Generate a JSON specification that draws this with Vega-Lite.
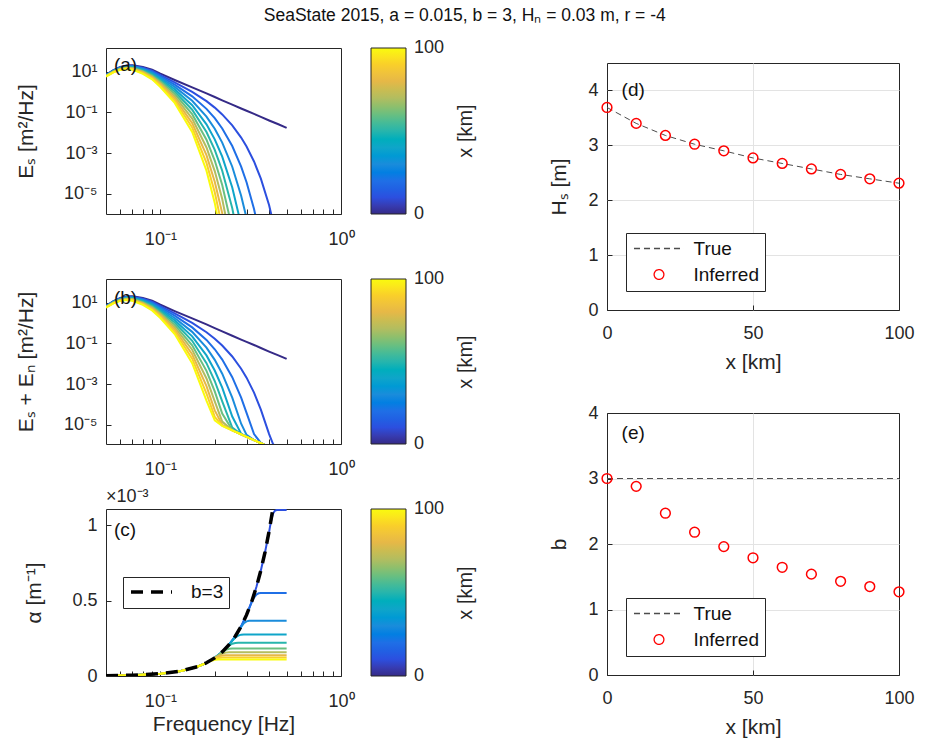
{
  "$schema": "https://vega.github.io/schema/vega-lite/v6.json",
  "background": "white",
  "padding": {"left": 15, "top": 7, "right": 5, "bottom": 5},
  "title": {"text": "SeaState 2015, a = 0.015, b = 3, Hₙ = 0.03 m, r = -4", "fontSize": 17.5, "fontWeight": "normal", "font": "Liberation Sans", "color": "#111111", "anchor": "middle", "frame": "bounds", "offset": 21},
  "config": {
    "font": "Liberation Sans",
    "view": {"stroke": "#262626", "strokeWidth": 1},
    "axis": {"labelFont": "Liberation Sans", "titleFont": "Liberation Sans", "labelFontSize": 18, "titleFontSize": 21, "titleFontWeight": "normal", "labelColor": "#262626", "titleColor": "#262626", "domain": false, "tickColor": "#262626", "tickSize": -5, "labelPadding": 14, "grid": false, "labelFlush": false},
    "legend": {"labelFont": "Liberation Sans", "titleFont": "Liberation Sans", "labelColor": "#262626", "titleColor": "#262626"},
    "text": {"font": "Liberation Sans"}
  },
  "datasets": {
    "specA": [
      {"x":0,"f":0.05,"E":7},{"x":0,"f":0.055,"E":12},{"x":0,"f":0.06,"E":17},{"x":0,"f":0.065,"E":20.5},{"x":0,"f":0.07,"E":21},{"x":0,"f":0.08,"E":17},{"x":0,"f":0.09,"E":12.5},{"x":0,"f":0.1,"E":8},{"x":0,"f":0.12,"E":3.9},{"x":0,"f":0.15,"E":1.7},{"x":0,"f":0.18,"E":0.86},{"x":0,"f":0.2,"E":0.57},{"x":0,"f":0.22,"E":0.39},{"x":0,"f":0.25,"E":0.24},{"x":0,"f":0.28,"E":0.155},{"x":0,"f":0.3,"E":0.12},{"x":0,"f":0.33,"E":0.084},{"x":0,"f":0.36,"E":0.06},{"x":0,"f":0.4,"E":0.04},{"x":0,"f":0.45,"E":0.026},{"x":0,"f":0.5,"E":0.0174},
      {"x":10,"f":0.05,"E":6.87},{"x":10,"f":0.055,"E":11.7},{"x":10,"f":0.06,"E":16.4},{"x":10,"f":0.065,"E":19.7},{"x":10,"f":0.07,"E":19.9},{"x":10,"f":0.08,"E":15.7},{"x":10,"f":0.09,"E":11.2},{"x":10,"f":0.1,"E":6.89},{"x":10,"f":0.12,"E":3.01},{"x":10,"f":0.15,"E":1.02},{"x":10,"f":0.18,"E":0.358},{"x":10,"f":0.2,"E":0.172},{"x":10,"f":0.22,"E":0.0794},{"x":10,"f":0.25,"E":0.023},{"x":10,"f":0.28,"E":0.00575},{"x":10,"f":0.3,"E":0.00209},{"x":10,"f":0.33,"E":0.000383},{"x":10,"f":0.36,"E":0.0000547},{"x":10,"f":0.4,"E":2.71e-6},{"x":10,"f":0.45,"E":3e-8},
      {"x":20,"f":0.05,"E":6.74},{"x":20,"f":0.055,"E":11.4},{"x":20,"f":0.06,"E":15.9},{"x":20,"f":0.065,"E":18.9},{"x":20,"f":0.07,"E":18.9},{"x":20,"f":0.08,"E":14.6},{"x":20,"f":0.09,"E":10.0},{"x":20,"f":0.1,"E":5.93},{"x":20,"f":0.12,"E":2.32},{"x":20,"f":0.15,"E":0.617},{"x":20,"f":0.18,"E":0.149},{"x":20,"f":0.2,"E":0.0518},{"x":20,"f":0.22,"E":0.0161},{"x":20,"f":0.25,"E":0.00221},{"x":20,"f":0.28,"E":0.000214},{"x":20,"f":0.3,"E":0.0000364},{"x":20,"f":0.33,"E":1.75e-6},{"x":20,"f":0.36,"E":5e-8},
      {"x":30,"f":0.05,"E":6.62},{"x":30,"f":0.055,"E":11.1},{"x":30,"f":0.06,"E":15.4},{"x":30,"f":0.065,"E":18.1},{"x":30,"f":0.07,"E":18.0},{"x":30,"f":0.08,"E":13.5},{"x":30,"f":0.09,"E":9.02},{"x":30,"f":0.1,"E":5.1},{"x":30,"f":0.12,"E":1.79},{"x":30,"f":0.15,"E":0.372},{"x":30,"f":0.18,"E":0.0622},{"x":30,"f":0.2,"E":0.0156},{"x":30,"f":0.22,"E":0.00326},{"x":30,"f":0.25,"E":0.000212},{"x":30,"f":0.28,"E":7.94e-6},{"x":30,"f":0.3,"E":6.3e-7},
      {"x":40,"f":0.05,"E":6.49},{"x":40,"f":0.055,"E":10.9},{"x":40,"f":0.06,"E":14.9},{"x":40,"f":0.065,"E":17.4},{"x":40,"f":0.07,"E":17.1},{"x":40,"f":0.08,"E":12.5},{"x":40,"f":0.09,"E":8.09},{"x":40,"f":0.1,"E":4.39},{"x":40,"f":0.12,"E":1.38},{"x":40,"f":0.15,"E":0.224},{"x":40,"f":0.18,"E":0.0259},{"x":40,"f":0.2,"E":0.0047},{"x":40,"f":0.22,"E":0.00066},{"x":40,"f":0.25,"E":0.0000203},{"x":40,"f":0.28,"E":2.95e-7},
      {"x":50,"f":0.05,"E":6.37},{"x":50,"f":0.055,"E":10.6},{"x":50,"f":0.06,"E":14.5},{"x":50,"f":0.065,"E":16.7},{"x":50,"f":0.07,"E":16.2},{"x":50,"f":0.08,"E":11.6},{"x":50,"f":0.09,"E":7.24},{"x":50,"f":0.1,"E":3.78},{"x":50,"f":0.12,"E":1.07},{"x":50,"f":0.15,"E":0.135},{"x":50,"f":0.18,"E":0.0108},{"x":50,"f":0.2,"E":0.00142},{"x":50,"f":0.22,"E":0.000134},{"x":50,"f":0.25,"E":1.95e-6},{"x":50,"f":0.28,"E":1.1e-8},
      {"x":60,"f":0.05,"E":6.25},{"x":60,"f":0.055,"E":10.3},{"x":60,"f":0.06,"E":14.0},{"x":60,"f":0.065,"E":16.0},{"x":60,"f":0.07,"E":15.4},{"x":60,"f":0.08,"E":10.7},{"x":60,"f":0.09,"E":6.5},{"x":60,"f":0.1,"E":3.25},{"x":60,"f":0.12,"E":0.822},{"x":60,"f":0.15,"E":0.0815},{"x":60,"f":0.18,"E":0.00451},{"x":60,"f":0.2,"E":0.000427},{"x":60,"f":0.22,"E":0.000027},{"x":60,"f":0.25,"E":1.87e-7},
      {"x":70,"f":0.05,"E":6.14},{"x":70,"f":0.055,"E":10.1},{"x":70,"f":0.06,"E":13.6},{"x":70,"f":0.065,"E":15.4},{"x":70,"f":0.07,"E":14.7},{"x":70,"f":0.08,"E":9.93},{"x":70,"f":0.09,"E":5.83},{"x":70,"f":0.1,"E":2.8},{"x":70,"f":0.12,"E":0.635},{"x":70,"f":0.15,"E":0.0491},{"x":70,"f":0.18,"E":0.00188},{"x":70,"f":0.2,"E":0.000129},{"x":70,"f":0.22,"E":5.48e-6},{"x":70,"f":0.25,"E":1.8e-8},
      {"x":80,"f":0.05,"E":6.03},{"x":80,"f":0.055,"E":9.82},{"x":80,"f":0.06,"E":13.1},{"x":80,"f":0.065,"E":14.8},{"x":80,"f":0.07,"E":13.9},{"x":80,"f":0.08,"E":9.19},{"x":80,"f":0.09,"E":5.23},{"x":80,"f":0.1,"E":2.41},{"x":80,"f":0.12,"E":0.49},{"x":80,"f":0.15,"E":0.0296},{"x":80,"f":0.18,"E":0.000783},{"x":80,"f":0.2,"E":0.0000387},{"x":80,"f":0.22,"E":1.11e-6},{"x":80,"f":0.25,"E":1.7e-9},
      {"x":90,"f":0.05,"E":5.92},{"x":90,"f":0.055,"E":9.57},{"x":90,"f":0.06,"E":12.7},{"x":90,"f":0.065,"E":14.2},{"x":90,"f":0.07,"E":13.2},{"x":90,"f":0.08,"E":8.51},{"x":90,"f":0.09,"E":4.69},{"x":90,"f":0.1,"E":2.07},{"x":90,"f":0.12,"E":0.378},{"x":90,"f":0.15,"E":0.0179},{"x":90,"f":0.18,"E":0.000327},{"x":90,"f":0.2,"E":0.0000117},{"x":90,"f":0.22,"E":2.25e-7},
      {"x":100,"f":0.05,"E":5.81},{"x":100,"f":0.055,"E":9.35},{"x":100,"f":0.06,"E":12.3},{"x":100,"f":0.065,"E":13.6},{"x":100,"f":0.07,"E":12.6},{"x":100,"f":0.08,"E":7.87},{"x":100,"f":0.09,"E":4.21},{"x":100,"f":0.1,"E":1.78},{"x":100,"f":0.12,"E":0.292},{"x":100,"f":0.15,"E":0.0108},{"x":100,"f":0.18,"E":0.000136},{"x":100,"f":0.2,"E":3.52e-6},{"x":100,"f":0.22,"E":4.5e-8}
    ],
    "specB": [
      {"x":0,"f":0.05,"E":7},{"x":0,"f":0.055,"E":12},{"x":0,"f":0.06,"E":17},{"x":0,"f":0.065,"E":20.5},{"x":0,"f":0.07,"E":21},{"x":0,"f":0.08,"E":17},{"x":0,"f":0.09,"E":12.5},{"x":0,"f":0.1,"E":8},{"x":0,"f":0.12,"E":3.9},{"x":0,"f":0.15,"E":1.7},{"x":0,"f":0.18,"E":0.86},{"x":0,"f":0.2,"E":0.57},{"x":0,"f":0.22,"E":0.39},{"x":0,"f":0.25,"E":0.24},{"x":0,"f":0.28,"E":0.155},{"x":0,"f":0.3,"E":0.12},{"x":0,"f":0.33,"E":0.084},{"x":0,"f":0.36,"E":0.06},{"x":0,"f":0.4,"E":0.04},{"x":0,"f":0.45,"E":0.026},{"x":0,"f":0.5,"E":0.0174},
      {"x":10,"f":0.05,"E":6.87},{"x":10,"f":0.055,"E":11.7},{"x":10,"f":0.06,"E":16.4},{"x":10,"f":0.065,"E":19.7},{"x":10,"f":0.07,"E":19.9},{"x":10,"f":0.08,"E":15.7},{"x":10,"f":0.09,"E":11.2},{"x":10,"f":0.1,"E":6.89},{"x":10,"f":0.12,"E":3.01},{"x":10,"f":0.15,"E":1.02},{"x":10,"f":0.18,"E":0.358},{"x":10,"f":0.2,"E":0.172},{"x":10,"f":0.22,"E":0.0794},{"x":10,"f":0.25,"E":0.023},{"x":10,"f":0.28,"E":0.00575},{"x":10,"f":0.3,"E":0.00209},{"x":10,"f":0.33,"E":0.000385},{"x":10,"f":0.36,"E":0.000056},{"x":10,"f":0.4,"E":3.53e-6},{"x":10,"f":0.42,"E":1.18e-6},{"x":10,"f":0.45,"E":5.4e-7},
      {"x":20,"f":0.05,"E":6.74},{"x":20,"f":0.055,"E":11.4},{"x":20,"f":0.06,"E":15.9},{"x":20,"f":0.065,"E":18.9},{"x":20,"f":0.07,"E":18.9},{"x":20,"f":0.08,"E":14.6},{"x":20,"f":0.09,"E":10.0},{"x":20,"f":0.1,"E":5.93},{"x":20,"f":0.12,"E":2.32},{"x":20,"f":0.15,"E":0.617},{"x":20,"f":0.18,"E":0.149},{"x":20,"f":0.2,"E":0.0518},{"x":20,"f":0.22,"E":0.0161},{"x":20,"f":0.25,"E":0.00221},{"x":20,"f":0.28,"E":0.000217},{"x":20,"f":0.3,"E":0.000039},{"x":20,"f":0.33,"E":3.52e-6},{"x":20,"f":0.36,"E":1.3e-6},{"x":20,"f":0.4,"E":8.2e-7},
      {"x":30,"f":0.05,"E":6.62},{"x":30,"f":0.055,"E":11.1},{"x":30,"f":0.06,"E":15.4},{"x":30,"f":0.065,"E":18.1},{"x":30,"f":0.07,"E":18.0},{"x":30,"f":0.08,"E":13.5},{"x":30,"f":0.09,"E":9.02},{"x":30,"f":0.1,"E":5.1},{"x":30,"f":0.12,"E":1.79},{"x":30,"f":0.15,"E":0.372},{"x":30,"f":0.18,"E":0.0622},{"x":30,"f":0.2,"E":0.0156},{"x":30,"f":0.22,"E":0.00326},{"x":30,"f":0.25,"E":0.000217},{"x":30,"f":0.28,"E":0.0000114},{"x":30,"f":0.3,"E":3.22e-6},{"x":30,"f":0.33,"E":1.77e-6},{"x":30,"f":0.36,"E":1.25e-6},{"x":30,"f":0.4,"E":8.2e-7},
      {"x":40,"f":0.05,"E":6.49},{"x":40,"f":0.055,"E":10.9},{"x":40,"f":0.06,"E":14.9},{"x":40,"f":0.065,"E":17.4},{"x":40,"f":0.07,"E":17.1},{"x":40,"f":0.08,"E":12.5},{"x":40,"f":0.09,"E":8.09},{"x":40,"f":0.1,"E":4.39},{"x":40,"f":0.12,"E":1.38},{"x":40,"f":0.15,"E":0.224},{"x":40,"f":0.18,"E":0.0259},{"x":40,"f":0.2,"E":0.0047},{"x":40,"f":0.22,"E":0.00067},{"x":40,"f":0.25,"E":0.0000257},{"x":40,"f":0.28,"E":3.72e-6},{"x":40,"f":0.3,"E":2.59e-6},{"x":40,"f":0.33,"E":1.77e-6},{"x":40,"f":0.36,"E":1.25e-6},{"x":40,"f":0.4,"E":8.2e-7},
      {"x":50,"f":0.05,"E":6.37},{"x":50,"f":0.055,"E":10.6},{"x":50,"f":0.06,"E":14.5},{"x":50,"f":0.065,"E":16.7},{"x":50,"f":0.07,"E":16.2},{"x":50,"f":0.08,"E":11.6},{"x":50,"f":0.09,"E":7.24},{"x":50,"f":0.1,"E":3.78},{"x":50,"f":0.12,"E":1.07},{"x":50,"f":0.15,"E":0.135},{"x":50,"f":0.18,"E":0.0108},{"x":50,"f":0.2,"E":0.00143},{"x":50,"f":0.22,"E":0.000143},{"x":50,"f":0.25,"E":7.33e-6},{"x":50,"f":0.28,"E":3.42e-6},{"x":50,"f":0.3,"E":2.59e-6},{"x":50,"f":0.33,"E":1.77e-6},{"x":50,"f":0.36,"E":1.25e-6},{"x":50,"f":0.4,"E":8.2e-7},
      {"x":60,"f":0.05,"E":6.25},{"x":60,"f":0.055,"E":10.3},{"x":60,"f":0.06,"E":14.0},{"x":60,"f":0.065,"E":16.0},{"x":60,"f":0.07,"E":15.4},{"x":60,"f":0.08,"E":10.7},{"x":60,"f":0.09,"E":6.5},{"x":60,"f":0.1,"E":3.25},{"x":60,"f":0.12,"E":0.822},{"x":60,"f":0.15,"E":0.0815},{"x":60,"f":0.18,"E":0.00453},{"x":60,"f":0.2,"E":0.00044},{"x":60,"f":0.22,"E":0.000036},{"x":60,"f":0.25,"E":5.57e-6},{"x":60,"f":0.28,"E":3.42e-6},{"x":60,"f":0.3,"E":2.59e-6},{"x":60,"f":0.33,"E":1.77e-6},{"x":60,"f":0.36,"E":1.25e-6},{"x":60,"f":0.4,"E":8.2e-7},
      {"x":70,"f":0.05,"E":6.14},{"x":70,"f":0.055,"E":10.1},{"x":70,"f":0.06,"E":13.6},{"x":70,"f":0.065,"E":15.4},{"x":70,"f":0.07,"E":14.7},{"x":70,"f":0.08,"E":9.93},{"x":70,"f":0.09,"E":5.83},{"x":70,"f":0.1,"E":2.8},{"x":70,"f":0.12,"E":0.635},{"x":70,"f":0.15,"E":0.0491},{"x":70,"f":0.18,"E":0.0019},{"x":70,"f":0.2,"E":0.000142},{"x":70,"f":0.22,"E":0.0000145},{"x":70,"f":0.25,"E":5.38e-6},{"x":70,"f":0.28,"E":3.42e-6},{"x":70,"f":0.3,"E":2.59e-6},{"x":70,"f":0.33,"E":1.77e-6},{"x":70,"f":0.36,"E":1.25e-6},{"x":70,"f":0.4,"E":8.2e-7},
      {"x":80,"f":0.05,"E":6.03},{"x":80,"f":0.055,"E":9.82},{"x":80,"f":0.06,"E":13.1},{"x":80,"f":0.065,"E":14.8},{"x":80,"f":0.07,"E":13.9},{"x":80,"f":0.08,"E":9.19},{"x":80,"f":0.09,"E":5.23},{"x":80,"f":0.1,"E":2.41},{"x":80,"f":0.12,"E":0.49},{"x":80,"f":0.15,"E":0.0296},{"x":80,"f":0.18,"E":0.0008},{"x":80,"f":0.2,"E":0.0000518},{"x":80,"f":0.22,"E":0.0000101},{"x":80,"f":0.25,"E":5.38e-6},{"x":80,"f":0.28,"E":3.42e-6},{"x":80,"f":0.3,"E":2.59e-6},{"x":80,"f":0.33,"E":1.77e-6},{"x":80,"f":0.36,"E":1.25e-6},{"x":80,"f":0.4,"E":8.2e-7},
      {"x":90,"f":0.05,"E":5.92},{"x":90,"f":0.055,"E":9.57},{"x":90,"f":0.06,"E":12.7},{"x":90,"f":0.065,"E":14.2},{"x":90,"f":0.07,"E":13.2},{"x":90,"f":0.08,"E":8.51},{"x":90,"f":0.09,"E":4.69},{"x":90,"f":0.1,"E":2.07},{"x":90,"f":0.12,"E":0.378},{"x":90,"f":0.15,"E":0.018},{"x":90,"f":0.18,"E":0.000347},{"x":90,"f":0.2,"E":0.0000248},{"x":90,"f":0.22,"E":9.2e-6},{"x":90,"f":0.25,"E":5.38e-6},{"x":90,"f":0.28,"E":3.42e-6},{"x":90,"f":0.3,"E":2.59e-6},{"x":90,"f":0.33,"E":1.77e-6},{"x":90,"f":0.36,"E":1.25e-6},{"x":90,"f":0.4,"E":8.2e-7},
      {"x":100,"f":0.05,"E":5.81},{"x":100,"f":0.055,"E":9.35},{"x":100,"f":0.06,"E":12.3},{"x":100,"f":0.065,"E":13.6},{"x":100,"f":0.07,"E":12.6},{"x":100,"f":0.08,"E":7.87},{"x":100,"f":0.09,"E":4.21},{"x":100,"f":0.1,"E":1.78},{"x":100,"f":0.12,"E":0.292},{"x":100,"f":0.15,"E":0.0108},{"x":100,"f":0.18,"E":0.000156},{"x":100,"f":0.2,"E":0.0000166},{"x":100,"f":0.22,"E":9e-6},{"x":100,"f":0.25,"E":5.38e-6},{"x":100,"f":0.28,"E":3.42e-6},{"x":100,"f":0.3,"E":2.59e-6},{"x":100,"f":0.33,"E":1.77e-6},{"x":100,"f":0.36,"E":1.25e-6},{"x":100,"f":0.4,"E":8.2e-7}
    ],
    "alpha": [
      {"x":10,"f":0.05,"a":1.9e-6},{"x":10,"f":0.07,"a":5.1e-6},{"x":10,"f":0.1,"a":1.5e-5},{"x":10,"f":0.13,"a":3.3e-5},{"x":10,"f":0.16,"a":6.14e-5},{"x":10,"f":0.18,"a":8.75e-5},{"x":10,"f":0.2,"a":1.2e-4},{"x":10,"f":0.22,"a":1.597e-4},{"x":10,"f":0.24,"a":2.074e-4},{"x":10,"f":0.26,"a":2.636e-4},{"x":10,"f":0.28,"a":3.293e-4},{"x":10,"f":0.3,"a":4.05e-4},{"x":10,"f":0.32,"a":4.915e-4},{"x":10,"f":0.34,"a":5.896e-4},{"x":10,"f":0.36,"a":6.998e-4},{"x":10,"f":0.38,"a":8.231e-4},{"x":10,"f":0.4,"a":9.55e-4},{"x":10,"f":0.41,"a":1.03e-3},{"x":10,"f":0.42,"a":1.075e-3},{"x":10,"f":0.43,"a":1.095e-3},{"x":10,"f":0.44,"a":1.1e-3},{"x":10,"f":0.5,"a":1.1e-3},
      {"x":20,"f":0.05,"a":1.9e-6},{"x":20,"f":0.07,"a":5.1e-6},{"x":20,"f":0.1,"a":1.5e-5},{"x":20,"f":0.13,"a":3.3e-5},{"x":20,"f":0.16,"a":6.14e-5},{"x":20,"f":0.18,"a":8.75e-5},{"x":20,"f":0.2,"a":1.2e-4},{"x":20,"f":0.22,"a":1.597e-4},{"x":20,"f":0.24,"a":2.074e-4},{"x":20,"f":0.26,"a":2.636e-4},{"x":20,"f":0.28,"a":3.293e-4},{"x":20,"f":0.3,"a":4.05e-4},{"x":20,"f":0.32,"a":4.88e-4},{"x":20,"f":0.33,"a":5.2e-4},{"x":20,"f":0.34,"a":5.4e-4},{"x":20,"f":0.35,"a":5.48e-4},{"x":20,"f":0.36,"a":5.5e-4},{"x":20,"f":0.5,"a":5.5e-4},
      {"x":30,"f":0.05,"a":1.9e-6},{"x":30,"f":0.07,"a":5.1e-6},{"x":30,"f":0.1,"a":1.5e-5},{"x":30,"f":0.13,"a":3.3e-5},{"x":30,"f":0.16,"a":6.14e-5},{"x":30,"f":0.18,"a":8.75e-5},{"x":30,"f":0.2,"a":1.2e-4},{"x":30,"f":0.22,"a":1.597e-4},{"x":30,"f":0.24,"a":2.074e-4},{"x":30,"f":0.26,"a":2.636e-4},{"x":30,"f":0.27,"a":2.95e-4},{"x":30,"f":0.28,"a":3.25e-4},{"x":30,"f":0.29,"a":3.5e-4},{"x":30,"f":0.3,"a":3.62e-4},{"x":30,"f":0.31,"a":3.66e-4},{"x":30,"f":0.5,"a":3.67e-4},
      {"x":40,"f":0.05,"a":1.9e-6},{"x":40,"f":0.07,"a":5.1e-6},{"x":40,"f":0.1,"a":1.5e-5},{"x":40,"f":0.13,"a":3.3e-5},{"x":40,"f":0.16,"a":6.14e-5},{"x":40,"f":0.18,"a":8.75e-5},{"x":40,"f":0.2,"a":1.2e-4},{"x":40,"f":0.22,"a":1.597e-4},{"x":40,"f":0.24,"a":2.074e-4},{"x":40,"f":0.25,"a":2.33e-4},{"x":40,"f":0.26,"a":2.55e-4},{"x":40,"f":0.27,"a":2.68e-4},{"x":40,"f":0.28,"a":2.74e-4},{"x":40,"f":0.29,"a":2.75e-4},{"x":40,"f":0.5,"a":2.75e-4},
      {"x":50,"f":0.05,"a":1.9e-6},{"x":50,"f":0.07,"a":5.1e-6},{"x":50,"f":0.1,"a":1.5e-5},{"x":50,"f":0.13,"a":3.3e-5},{"x":50,"f":0.16,"a":6.14e-5},{"x":50,"f":0.18,"a":8.75e-5},{"x":50,"f":0.2,"a":1.2e-4},{"x":50,"f":0.22,"a":1.597e-4},{"x":50,"f":0.23,"a":1.82e-4},{"x":50,"f":0.24,"a":2.02e-4},{"x":50,"f":0.25,"a":2.14e-4},{"x":50,"f":0.26,"a":2.19e-4},{"x":50,"f":0.27,"a":2.2e-4},{"x":50,"f":0.5,"a":2.2e-4},
      {"x":60,"f":0.05,"a":1.9e-6},{"x":60,"f":0.07,"a":5.1e-6},{"x":60,"f":0.1,"a":1.5e-5},{"x":60,"f":0.13,"a":3.3e-5},{"x":60,"f":0.16,"a":6.14e-5},{"x":60,"f":0.18,"a":8.75e-5},{"x":60,"f":0.2,"a":1.2e-4},{"x":60,"f":0.21,"a":1.389e-4},{"x":60,"f":0.22,"a":1.58e-4},{"x":60,"f":0.23,"a":1.73e-4},{"x":60,"f":0.24,"a":1.8e-4},{"x":60,"f":0.25,"a":1.83e-4},{"x":60,"f":0.5,"a":1.83e-4},
      {"x":70,"f":0.05,"a":1.9e-6},{"x":70,"f":0.07,"a":5.1e-6},{"x":70,"f":0.1,"a":1.5e-5},{"x":70,"f":0.13,"a":3.3e-5},{"x":70,"f":0.16,"a":6.14e-5},{"x":70,"f":0.18,"a":8.75e-5},{"x":70,"f":0.2,"a":1.2e-4},{"x":70,"f":0.21,"a":1.37e-4},{"x":70,"f":0.22,"a":1.49e-4},{"x":70,"f":0.23,"a":1.55e-4},{"x":70,"f":0.24,"a":1.57e-4},{"x":70,"f":0.5,"a":1.57e-4},
      {"x":80,"f":0.05,"a":1.9e-6},{"x":80,"f":0.07,"a":5.1e-6},{"x":80,"f":0.1,"a":1.5e-5},{"x":80,"f":0.13,"a":3.3e-5},{"x":80,"f":0.16,"a":6.14e-5},{"x":80,"f":0.18,"a":8.75e-5},{"x":80,"f":0.19,"a":1.029e-4},{"x":80,"f":0.2,"a":1.19e-4},{"x":80,"f":0.21,"a":1.31e-4},{"x":80,"f":0.22,"a":1.36e-4},{"x":80,"f":0.23,"a":1.375e-4},{"x":80,"f":0.5,"a":1.375e-4},
      {"x":90,"f":0.05,"a":1.9e-6},{"x":90,"f":0.07,"a":5.1e-6},{"x":90,"f":0.1,"a":1.5e-5},{"x":90,"f":0.13,"a":3.3e-5},{"x":90,"f":0.16,"a":6.14e-5},{"x":90,"f":0.18,"a":8.75e-5},{"x":90,"f":0.19,"a":1.02e-4},{"x":90,"f":0.2,"a":1.14e-4},{"x":90,"f":0.21,"a":1.2e-4},{"x":90,"f":0.22,"a":1.22e-4},{"x":90,"f":0.5,"a":1.22e-4},
      {"x":100,"f":0.05,"a":1.9e-6},{"x":100,"f":0.07,"a":5.1e-6},{"x":100,"f":0.1,"a":1.5e-5},{"x":100,"f":0.13,"a":3.3e-5},{"x":100,"f":0.16,"a":6.14e-5},{"x":100,"f":0.18,"a":8.75e-5},{"x":100,"f":0.19,"a":1.0e-4},{"x":100,"f":0.2,"a":1.07e-4},{"x":100,"f":0.21,"a":1.1e-4},{"x":100,"f":0.5,"a":1.1e-4}
    ],
    "truth": [
      {"s":"b=3","f":0.05,"a":1.9e-6},{"s":"b=3","f":0.07,"a":5.1e-6},{"s":"b=3","f":0.1,"a":1.5e-5},{"s":"b=3","f":0.13,"a":3.3e-5},{"s":"b=3","f":0.16,"a":6.14e-5},{"s":"b=3","f":0.18,"a":8.75e-5},{"s":"b=3","f":0.2,"a":1.2e-4},{"s":"b=3","f":0.22,"a":1.597e-4},{"s":"b=3","f":0.24,"a":2.074e-4},{"s":"b=3","f":0.26,"a":2.636e-4},{"s":"b=3","f":0.28,"a":3.293e-4},{"s":"b=3","f":0.3,"a":4.05e-4},{"s":"b=3","f":0.32,"a":4.915e-4},{"s":"b=3","f":0.34,"a":5.896e-4},{"s":"b=3","f":0.36,"a":6.998e-4},{"s":"b=3","f":0.38,"a":8.231e-4},{"s":"b=3","f":0.4,"a":9.6e-4},{"s":"b=3","f":0.42,"a":1.111e-3},{"s":"b=3","f":0.44,"a":1.278e-3}
    ],
    "hs": [
      {"x":0,"t":3.69,"i":3.69},{"x":10,"t":3.4,"i":3.4},{"x":20,"t":3.18,"i":3.18},{"x":30,"t":3.02,"i":3.02},{"x":40,"t":2.9,"i":2.9},{"x":50,"t":2.77,"i":2.77},{"x":60,"t":2.67,"i":2.67},{"x":70,"t":2.57,"i":2.57},{"x":80,"t":2.47,"i":2.47},{"x":90,"t":2.39,"i":2.39},{"x":100,"t":2.31,"i":2.31}
    ],
    "bexp": [
      {"x":0,"t":3,"i":3.0},{"x":10,"t":3,"i":2.88},{"x":20,"t":3,"i":2.47},{"x":30,"t":3,"i":2.18},{"x":40,"t":3,"i":1.96},{"x":50,"t":3,"i":1.79},{"x":60,"t":3,"i":1.645},{"x":70,"t":3,"i":1.54},{"x":80,"t":3,"i":1.43},{"x":90,"t":3,"i":1.35},{"x":100,"t":3,"i":1.27}
    ]
  },
  "hconcat": [
    {
      "vconcat": [
        {
          "width": 235, "height": 166,
          "layer": [
            {
              "data": {"name": "specA"},
              "mark": {"type": "line", "strokeWidth": 2, "clip": true},
              "encoding": {
                "x": {"field": "f", "type": "quantitative", "scale": {"type": "log", "domain": [0.05, 1], "nice": false}, "axis": {"values": [0.06,0.07,0.08,0.09,0.1,0.2,0.3,0.4,0.5,0.6,0.7,0.8,0.9,1], "labelExpr": "datum.value == 0.1 ? '10⁻¹' : (datum.value == 1 ? '10⁰' : '')", "title": null, "labelPadding": 21}},
                "y": {"field": "E", "type": "quantitative", "scale": {"type": "log", "domain": [1e-6, 147], "nice": false}, "axis": {"values": [10, 0.1, 0.001, 0.00001], "labelExpr": "datum.value > 1 ? '10¹' : (datum.value > 0.01 ? '10⁻¹' : (datum.value > 0.0001 ? '10⁻³' : '10⁻⁵'))", "title": "Eₛ [m²/Hz]", "titlePadding": 27}},
                "color": {"field": "x", "type": "quantitative", "scale": {"domain": [0,10,20,30,40,50,60,70,80,90,100], "range": ["#352a87","#2c4fdf","#1f6fe6","#1a8cdb","#0fa5c9","#27b5ac","#6abf80","#b3bd5f","#e6b847","#f9cf2a","#f9fb0e"]}, "legend": {"type": "gradient", "orient": "right", "offset": 30, "direction": "vertical", "gradientLength": 166, "gradientThickness": 35, "gradientStrokeColor": "#262626", "gradientStrokeWidth": 1, "values": [0, 100], "labelFontSize": 18, "labelOffset": 8, "title": "x [km]", "titleOrient": "right", "titleFontSize": 20, "titleFontWeight": "normal", "titleAnchor": "middle", "titlePadding": 32, "padding": 0, "encode": {"labels": {"update": {"baseline": {"value": "middle"}}}, "title": {"update": {"angle": {"value": 270}}}}}},
                "detail": {"field": "x", "type": "nominal"}
              }
            },
            {
              "data": {"values": [{}]},
              "mark": {"type": "text", "align": "left", "baseline": "middle", "fontSize": 19, "color": "#111111"},
              "encoding": {"x": {"datum": 0.0553}, "y": {"datum": 21}, "text": {"value": "(a)"}}
            }
          ]
        },
        {
          "width": 235, "height": 165,
          "layer": [
            {
              "data": {"name": "specB"},
              "mark": {"type": "line", "strokeWidth": 2, "clip": true},
              "encoding": {
                "x": {"field": "f", "type": "quantitative", "scale": {"type": "log", "domain": [0.05, 1], "nice": false}, "axis": {"values": [0.06,0.07,0.08,0.09,0.1,0.2,0.3,0.4,0.5,0.6,0.7,0.8,0.9,1], "labelExpr": "datum.value == 0.1 ? '10⁻¹' : (datum.value == 1 ? '10⁰' : '')", "title": null, "labelPadding": 21}},
                "y": {"field": "E", "type": "quantitative", "scale": {"type": "log", "domain": [1.15e-6, 147], "nice": false}, "axis": {"values": [10, 0.1, 0.001, 0.00001], "labelExpr": "datum.value > 1 ? '10¹' : (datum.value > 0.01 ? '10⁻¹' : (datum.value > 0.0001 ? '10⁻³' : '10⁻⁵'))", "title": "Eₛ + Eₙ [m²/Hz]", "titlePadding": 27}},
                "color": {"field": "x", "type": "quantitative", "scale": {"domain": [0,10,20,30,40,50,60,70,80,90,100], "range": ["#352a87","#2c4fdf","#1f6fe6","#1a8cdb","#0fa5c9","#27b5ac","#6abf80","#b3bd5f","#e6b847","#f9cf2a","#f9fb0e"]}, "legend": {"type": "gradient", "orient": "right", "offset": 30, "direction": "vertical", "gradientLength": 165, "gradientThickness": 35, "gradientStrokeColor": "#262626", "gradientStrokeWidth": 1, "values": [0, 100], "labelFontSize": 18, "labelOffset": 8, "title": "x [km]", "titleOrient": "right", "titleFontSize": 20, "titleFontWeight": "normal", "titleAnchor": "middle", "titlePadding": 32, "padding": 0, "encode": {"labels": {"update": {"baseline": {"value": "middle"}}}, "title": {"update": {"angle": {"value": 270}}}}}},
                "detail": {"field": "x", "type": "nominal"}
              }
            },
            {
              "data": {"values": [{}]},
              "mark": {"type": "text", "align": "left", "baseline": "middle", "fontSize": 19, "color": "#111111"},
              "encoding": {"x": {"datum": 0.0553}, "y": {"datum": 17.7}, "text": {"value": "(b)"}}
            }
          ]
        },
        {
          "width": 235, "height": 167,
          "title": {"text": "×10⁻³", "anchor": "start", "frame": "group", "fontSize": 18, "fontWeight": "normal", "offset": 3, "color": "#262626"},
          "layer": [
            {
              "data": {"name": "alpha"},
              "mark": {"type": "line", "strokeWidth": 2, "clip": true},
              "encoding": {
                "x": {"field": "f", "type": "quantitative", "scale": {"type": "log", "domain": [0.05, 1], "nice": false}, "axis": {"values": [0.06,0.07,0.08,0.09,0.1,0.2,0.3,0.4,0.5,0.6,0.7,0.8,0.9,1], "labelExpr": "datum.value == 0.1 ? '10⁻¹' : (datum.value == 1 ? '10⁰' : '')", "title": "Frequency [Hz]", "labelPadding": 21, "titlePadding": 3}},
                "y": {"field": "a", "type": "quantitative", "scale": {"domain": [0, 0.001107], "nice": false}, "axis": {"values": [0, 0.0005, 0.001], "labelExpr": "datum.value == 0 ? '0' : (datum.value < 0.0007 ? '0.5' : '1')", "title": "α [m⁻¹]", "titlePadding": 27}},
                "color": {"field": "x", "type": "quantitative", "scale": {"domain": [0,10,20,30,40,50,60,70,80,90,100], "range": ["#352a87","#2c4fdf","#1f6fe6","#1a8cdb","#0fa5c9","#27b5ac","#6abf80","#b3bd5f","#e6b847","#f9cf2a","#f9fb0e"]}, "legend": {"type": "gradient", "orient": "right", "offset": 30, "direction": "vertical", "gradientLength": 167, "gradientThickness": 35, "gradientStrokeColor": "#262626", "gradientStrokeWidth": 1, "values": [0, 100], "labelFontSize": 18, "labelOffset": 8, "title": "x [km]", "titleOrient": "right", "titleFontSize": 20, "titleFontWeight": "normal", "titleAnchor": "middle", "titlePadding": 32, "padding": 0, "encode": {"labels": {"update": {"baseline": {"value": "middle"}}}, "title": {"update": {"angle": {"value": 270}}}}}},
                "detail": {"field": "x", "type": "nominal"}
              }
            },
            {
              "data": {"name": "truth"},
              "mark": {"type": "line", "strokeWidth": 3.5, "color": "black", "clip": true},
              "encoding": {
                "x": {"field": "f", "type": "quantitative"},
                "y": {"field": "a", "type": "quantitative"},
                "strokeDash": {"field": "s", "type": "nominal", "scale": {"domain": ["b=3"], "range": [[12, 8]]}, "legend": {"orient": "none", "legendX": 17, "legendY": 68, "title": null, "strokeColor": "#262626", "fillColor": "white", "padding": 5.5, "labelFontSize": 19, "labelColor": "#111111", "symbolStrokeColor": "black", "symbolStrokeWidth": 3.5, "symbolSize": 100, "symbolOffset": 13.5, "labelOffset": 30, "encode": {"symbols": {"update": {"shape": {"value": "M-4.1,0H4.1"}, "size": {"value": 100}, "stroke": {"value": "black"}, "strokeWidth": {"value": 3.5}, "strokeDash": {"value": [14, 13]}}}}}}
              }
            },
            {
              "data": {"values": [{}]},
              "mark": {"type": "text", "align": "left", "baseline": "middle", "fontSize": 19, "color": "#111111"},
              "encoding": {"x": {"datum": 0.0553}, "y": {"datum": 0.000967}, "text": {"value": "(c)"}}
            }
          ]
        }
      ],
      "spacing": 65,
      "bounds": "flush",
      "resolve": {"scale": {"color": "independent", "strokeDash": "independent"}, "legend": {"color": "independent", "strokeDash": "independent"}}
    },
    {
      "vconcat": [
        {
          "data": {"values": [{}]},
          "mark": {"type": "point", "opacity": 0},
          "width": 292, "height": 1,
          "view": {"stroke": null},
          "encoding": {}
        },
        {
          "vconcat": [
            {
              "width": 292, "height": 247,
              "data": {"name": "hs"},
              "layer": [
                {
                  "mark": {"type": "line", "strokeDash": [6, 4], "strokeWidth": 1},
                  "encoding": {
                    "x": {"field": "x", "type": "quantitative", "scale": {"domain": [0, 100], "nice": false}, "axis": {"values": [0, 50, 100], "title": "x [km]", "grid": true, "gridColor": {"condition": {"test": "datum.value === 0 || datum.value === 100", "value": "transparent"}, "value": "#e3e3e3"}, "labelPadding": 19, "titlePadding": 9}},
                    "y": {"field": "t", "type": "quantitative", "scale": {"domain": [0, 4.5], "nice": false}, "axis": {"values": [0, 1, 2, 3, 4], "format": "d", "title": "Hₛ [m]", "grid": true, "gridColor": {"condition": {"test": "datum.value === 0", "value": "transparent"}, "value": "#e3e3e3"}, "titlePadding": 18}},
                    "color": {"datum": "True", "type": "nominal", "scale": {"domain": ["True", "Inferred"], "range": ["#4d4d4d", "#ff0000"]}, "legend": {"orient": "bottom-left", "offset": 19, "title": null, "strokeColor": "#262626", "fillColor": "white", "padding": 6, "labelFontSize": 19, "labelColor": "#111111", "symbolSize": 95, "symbolOffset": 17.5, "labelOffset": 25, "rowPadding": 6, "encode": {"symbols": {"update": {"shape": {"signal": "datum.value === 'True' ? 'M-5.13,0H5.13' : 'circle'"}, "size": {"value": 95}, "strokeDash": {"signal": "datum.value === 'True' ? [6, 4] : [1, 0]"}, "stroke": {"signal": "datum.value === 'True' ? '#4d4d4d' : '#ff0000'"}, "strokeWidth": {"value": 1.3}, "fill": {"value": "transparent"}}}}}}
                  }
                },
                {
                  "mark": {"type": "point", "filled": false, "size": 95, "strokeWidth": 1.5, "opacity": 1},
                  "encoding": {
                    "x": {"field": "x", "type": "quantitative"},
                    "y": {"field": "i", "type": "quantitative", "axis": {"title": "Hₛ [m]"}},
                    "color": {"datum": "Inferred", "type": "nominal"}
                  }
                },
                {
                  "data": {"values": [{}]},
                  "mark": {"type": "text", "align": "left", "baseline": "middle", "fontSize": 19, "color": "#111111"},
                  "encoding": {"x": {"datum": 5}, "y": {"datum": 4}, "text": {"value": "(d)"}}
                }
              ]
            },
            {
              "width": 292, "height": 262,
              "data": {"name": "bexp"},
              "layer": [
                {
                  "mark": {"type": "line", "strokeDash": [6, 4], "strokeWidth": 1},
                  "encoding": {
                    "x": {"field": "x", "type": "quantitative", "scale": {"domain": [0, 100], "nice": false}, "axis": {"values": [0, 50, 100], "title": "x [km]", "grid": true, "gridColor": {"condition": {"test": "datum.value === 0 || datum.value === 100", "value": "transparent"}, "value": "#e3e3e3"}, "labelPadding": 19, "titlePadding": 9}},
                    "y": {"field": "t", "type": "quantitative", "scale": {"domain": [0, 4], "nice": false}, "axis": {"values": [0, 1, 2, 3, 4], "format": "d", "title": "b", "grid": true, "gridColor": {"condition": {"test": "datum.value === 0 || datum.value === 4", "value": "transparent"}, "value": "#e3e3e3"}, "titlePadding": 18}},
                    "color": {"datum": "True", "type": "nominal", "scale": {"domain": ["True", "Inferred"], "range": ["#4d4d4d", "#ff0000"]}, "legend": {"orient": "bottom-left", "offset": 19, "title": null, "strokeColor": "#262626", "fillColor": "white", "padding": 6, "labelFontSize": 19, "labelColor": "#111111", "symbolSize": 95, "symbolOffset": 17.5, "labelOffset": 25, "rowPadding": 6, "encode": {"symbols": {"update": {"shape": {"signal": "datum.value === 'True' ? 'M-5.13,0H5.13' : 'circle'"}, "size": {"value": 95}, "strokeDash": {"signal": "datum.value === 'True' ? [6, 4] : [1, 0]"}, "stroke": {"signal": "datum.value === 'True' ? '#4d4d4d' : '#ff0000'"}, "strokeWidth": {"value": 1.3}, "fill": {"value": "transparent"}}}}}}
                  }
                },
                {
                  "mark": {"type": "point", "filled": false, "size": 95, "strokeWidth": 1.5, "opacity": 1},
                  "encoding": {
                    "x": {"field": "x", "type": "quantitative"},
                    "y": {"field": "i", "type": "quantitative", "axis": {"title": "b"}},
                    "color": {"datum": "Inferred", "type": "nominal"}
                  }
                },
                {
                  "data": {"values": [{}]},
                  "mark": {"type": "text", "align": "left", "baseline": "middle", "fontSize": 19, "color": "#111111"},
                  "encoding": {"x": {"datum": 5}, "y": {"datum": 3.69}, "text": {"value": "(e)"}}
                }
              ]
            }
          ],
          "spacing": 103,
          "bounds": "flush",
          "resolve": {"scale": {"color": "independent"}, "legend": {"color": "independent"}}
        }
      ],
      "spacing": 14,
      "bounds": "flush",
      "resolve": {"scale": {"color": "independent"}, "legend": {"color": "independent"}}
    }
  ],
  "spacing": 501,
  "bounds": "flush",
  "resolve": {"scale": {"color": "independent", "strokeDash": "independent"}, "legend": {"color": "independent", "strokeDash": "independent"}}
}
